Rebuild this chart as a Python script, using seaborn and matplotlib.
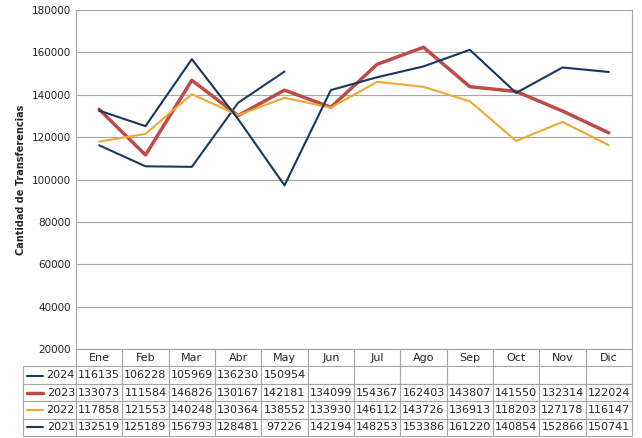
import matplotlib
matplotlib.use("Agg")
import matplotlib.pyplot as plt
import seaborn as sns
import pandas as pd
from matplotlib.lines import Line2D

months = ["Ene", "Feb", "Mar", "Abr", "May", "Jun", "Jul", "Ago", "Sep", "Oct", "Nov", "Dic"]
y2024 = [116135, 106228, 105969, 136230, 150954]
y2023 = [133073, 111584, 146826, 130167, 142181, 134099, 154367, 162403, 143807, 141550, 132314, 122024]
y2022 = [117858, 121553, 140248, 130364, 138552, 133930, 146112, 143726, 136913, 118203, 127178, 116147]
y2021 = [132519, 125189, 156793, 128481, 97226, 142194, 148253, 153386, 161220, 140854, 152866, 150741]

series = [("2024", y2024, "#1F3A60", 1.5),
          ("2023", y2023, "#BE4B48", 2.5),
          ("2022", y2022, "#F0A830", 1.5),
          ("2021", y2021, "#17375E", 1.5)]

rows = []
for name, vals, _, _ in series:
    for i, v in enumerate(vals):
        rows.append({"mes": i, "valor": v, "serie": name})
df = pd.DataFrame(rows)

sns.set_style("white")
fig = plt.figure(figsize=(6.42, 4.38), dpi=100)
W, H = 642, 438
L, R, T, B = 76, 632, 10, 349
ax = fig.add_axes([L / W, 1 - B / H, (R - L) / W, (B - T) / H])

for name, vals, color, lw in series:
    sns.lineplot(data=df[df.serie == name], x="mes", y="valor", color=color,
                 linewidth=lw, ax=ax, legend=False)

ax.set_xlim(-0.5, 11.5)
ax.set_ylim(20000, 180000)
ax.set_yticks(range(20000, 180001, 20000))
ax.tick_params(axis="y", labelsize=7.5, length=0)
ax.set_xticks([])
ax.set_xlabel("")
ax.set_ylabel("Cantidad de Transferencias", fontsize=7, fontweight="bold")
ax.yaxis.grid(True, color="#A6A6A6", linewidth=0.8)
for s in ax.spines.values():
    s.set_color("#A6A6A6")

# data table
cell_text = [[""] + months]
for name, vals, _, _ in series:
    cell_text.append([name] + [str(v) for v in vals] + [""] * (12 - len(vals)))
lab_w = (L - 23) / (R - L)
tab_h = (436 - B) / (B - T)
colw = [lab_w] + [1 / 12] * 12
tbl = ax.table(cellText=cell_text, colWidths=colw, cellLoc="center",
               bbox=[-lab_w, -tab_h, 1 + lab_w, tab_h])
tbl.auto_set_font_size(False)
tbl.set_fontsize(8)
for (r, c), cell in tbl.get_celld().items():
    cell.set_edgecolor("#A6A6A6")
    cell.set_linewidth(0.8)
    if r == 0 and c == 0:
        cell.visible_edges = ""
    if c == 0 and r > 0:
        cell._loc = "right"
        cell.PAD = 0.02
        cell.get_text().set_ha("right")

# legend keys in the row label cells
header_h = 18 / (B - T)
rh = (tab_h - header_h) / 4
for i, (name, _, color, lw) in enumerate(series):
    yc = -header_h - rh * (i + 0.5)
    ax.add_line(Line2D([-lab_w + 0.007, -lab_w + 0.036], [yc, yc], transform=ax.transAxes,
                       color=color, linewidth=lw, clip_on=False))

fig.savefig("out.png", dpi=100)
